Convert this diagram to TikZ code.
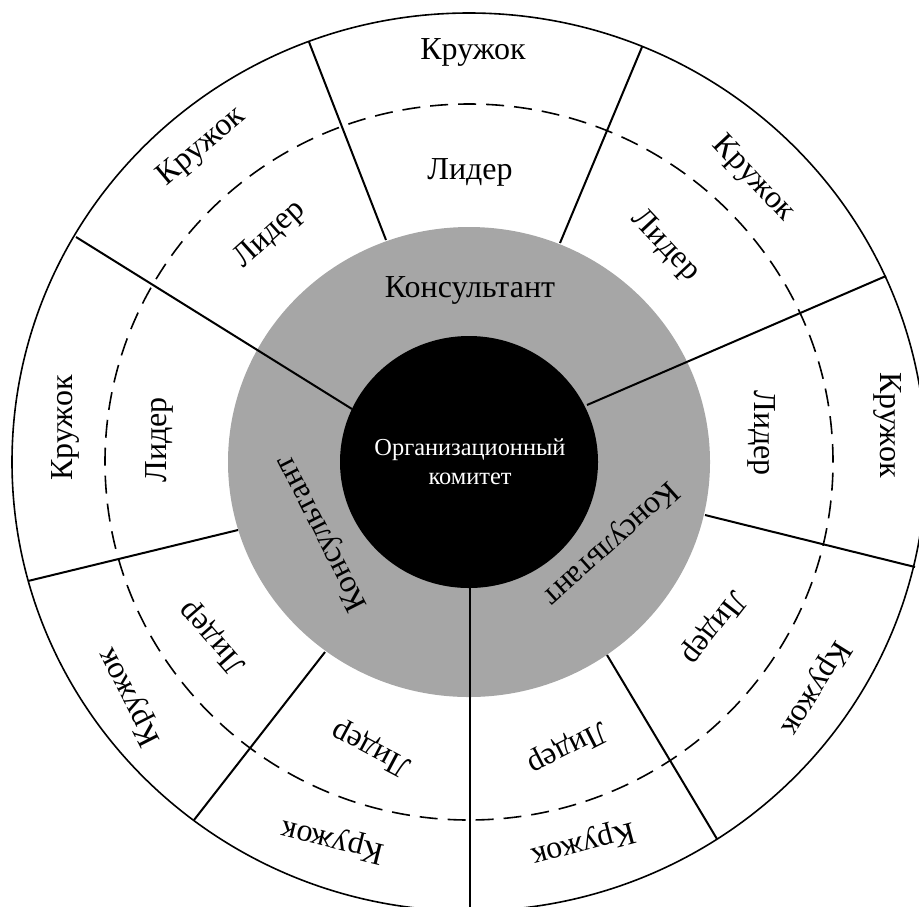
\documentclass[tikz,border=0pt]{standalone}
\usepackage{fontspec}
\setmainfont{Liberation Serif}
\definecolor{consgray}{RGB}{166,166,166}
\begin{document}
\begin{tikzpicture}[x=0.5pt,y=-0.5pt,
  lbl/.style={font=\fontsize{16}{19}\selectfont,inner sep=0pt},
  divider/.style={line width=1pt,black},
  ring/.style={line width=0.8pt,black}]
\useasboundingbox (0,0) rectangle (919,906);
\clip (0,0) rectangle (919,906);
% centre discs
\coordinate (c) at (469,462);
\fill[consgray] (c) ellipse [x radius=120.5pt, y radius=117.5pt];
\fill[black] (c) ellipse [x radius=64.5pt, y radius=63pt];
% divider end points
\coordinate (a1) at (352,409); \coordinate (b1) at (76,237);
\coordinate (a2) at (386,240); \coordinate (b2) at (309,42);
\coordinate (a3) at (560,243); \coordinate (b3) at (642,47);
\coordinate (a4) at (587,405); \coordinate (b4) at (886,276);
\coordinate (a5) at (705,515); \coordinate (b5) at (915,567);
\coordinate (a6) at (607,655); \coordinate (b6) at (717,839);
\coordinate (a7) at (470,588); \coordinate (b7) at (470,910);
\coordinate (a8) at (325,652); \coordinate (b8) at (194,820);
\coordinate (a9) at (238,530); \coordinate (b9) at (28,581);
\foreach \i in {1,...,9} \draw[divider] (a\i) -- (b\i);
% rings
\draw[ring,dash pattern=on 9pt off 5pt] (c) ellipse [x radius=182pt, y radius=179pt];
\draw[ring] (c) ellipse [x radius=228.5pt, y radius=224.5pt];
% centre text
\node[font=\fontsize{12.2}{14.25}\selectfont,text=white,align=center,inner sep=0pt] (org) at (470,462) {Организационный\\комитет};
% consultants
\node[lbl] (k1) at (470,290) {Консультант};
\node[lbl,rotate=117] (k2) at (323,533) {Консультант};
\node[lbl,rotate=-138] (k3) at (610,543) {Консультант};
% leaders and circles
\node[lbl] (l1) at (470,172) {Лидер};
\node[lbl] (r1) at (473,52) {Кружок};
\node[lbl,rotate=42] (l2) at (270,235) {Лидер};
\node[lbl,rotate=40] (r2) at (202,147) {Кружок};
\node[lbl,rotate=90] (l3) at (159,440) {Лидер};
\node[lbl,rotate=90] (r3) at (65,428) {Кружок};
\node[lbl,rotate=131] (l4) at (213,637) {Лидер};
\node[lbl,rotate=117] (r4) at (130,697) {Кружок};
\node[lbl,rotate=152] (l5) at (372,748) {Лидер};
\node[lbl,rotate=166] (r5) at (333,840) {Кружок};
\node[lbl,rotate=-153] (l6) at (567,747) {Лидер};
\node[lbl,rotate=-165] (r6) at (583,843) {Кружок};
\node[lbl,rotate=-128] (l7) at (713,627) {Лидер};
\node[lbl,rotate=-122] (r7) at (815,688) {Кружок};
\node[lbl,rotate=-90] (l8) at (762,433) {Лидер};
\node[lbl,rotate=-90] (r8) at (888,425) {Кружок};
\node[lbl,rotate=-47] (l9) at (665,246) {Лидер};
\node[lbl,rotate=-47] (r9) at (753,179) {Кружок};
\end{tikzpicture}
\end{document}
